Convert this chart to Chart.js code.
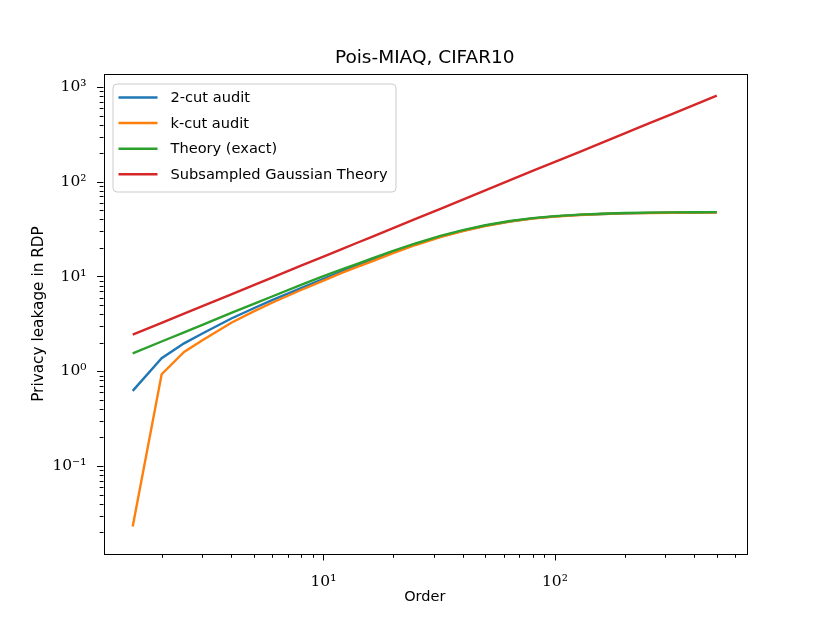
<!DOCTYPE html>
<html>
<head>
<meta charset="utf-8">
<script src="https://cdn.jsdelivr.net/npm/chart.js@4.4.0/dist/chart.umd.min.js"></script>
<style>
  html, body { margin: 0; padding: 0; background: #fff; }
  #myCanvas { display: block; }
</style>
</head>
<body>
<canvas id="myCanvas" width="830" height="623"></canvas>
<script>
const orders = [1.5, 2, 2.5, 3, 4, 5, 6, 8, 10, 12, 14, 16, 20, 25, 32, 40, 50, 64, 80, 100, 128, 160, 200, 256, 320, 400, 500];

const twoCut = [0.62, 1.37, 1.97, 2.5, 3.6, 4.62, 5.62, 7.55, 9.45, 11.3, 13.0, 14.7, 18.0, 21.8, 26.3, 30.4, 34.4, 38.2, 41.0, 43.1, 44.7, 45.7, 46.4, 46.9, 47.2, 47.4, 47.5];
const kCut = [0.023, 0.93, 1.6, 2.12, 3.25, 4.28, 5.28, 7.2, 9.05, 10.9, 12.6, 14.3, 17.6, 21.5, 26.0, 30.1, 34.1, 38.0, 40.8, 42.9, 44.5, 45.6, 46.3, 46.8, 47.1, 47.3, 47.4];
const theoryExact = [1.54, 2.06, 2.57, 3.09, 4.12, 5.14, 6.15, 8.15, 10.1, 11.9, 13.6, 15.3, 18.6, 22.3, 26.8, 30.8, 34.7, 38.5, 41.3, 43.4, 45.0, 46.0, 46.7, 47.2, 47.5, 47.7, 47.8];
const subsampledGaussian = [2.43, 3.24, 4.05, 4.86, 6.48, 8.1, 9.72, 13.0, 16.2, 19.4, 22.7, 25.9, 32.4, 40.5, 51.8, 64.8, 81, 104, 130, 162, 207, 259, 324, 415, 518, 648, 810];

const xTickValues = [2, 3, 4, 5, 6, 7, 8, 9, 10, 20, 30, 40, 50, 60, 70, 80, 90, 100, 200, 300, 400, 500, 600];
const xMajor = [10, 100];
const xMajorLabels = ["10\u00b9", "10\u00b2"];
const yTickValues = [0.02, 0.03, 0.04, 0.05, 0.06, 0.07, 0.08, 0.09, 0.1, 0.2, 0.3, 0.4, 0.5, 0.6, 0.7, 0.8, 0.9, 1, 2, 3, 4, 5, 6, 7, 8, 9, 10, 20, 30, 40, 50, 60, 70, 80, 90, 100, 200, 300, 400, 500, 600, 700, 800, 900, 1000];
const yMajor = [0.1, 1, 10, 100, 1000];
const yMajorLabels = ["10\u207b\u00b9", "10\u2070", "10\u00b9", "10\u00b2", "10\u00b3"];

const sansFont = "'DejaVu Sans', sans-serif";
const mathFont = "'DejaVu Serif', serif";

const makeTicks = (values, majors) => values.map(v => ({ value: v, major: majors.includes(v) }));

// matplotlib look: box frame, outward ticks (long major, short minor), title, legend inside
const mplDecor = {
    id: "mplDecor",
    afterDraw(chart) {
        const { ctx, chartArea: a, scales } = chart;
        ctx.save();
        ctx.strokeStyle = "#000";
        ctx.lineWidth = 1;
        scales.x.ticks.forEach(t => {
            const px = Math.round(scales.x.getPixelForValue(t.value)) + 0.5;
            ctx.beginPath();
            ctx.moveTo(px, a.bottom);
            ctx.lineTo(px, a.bottom + (t.major ? 6.5 : 3.8));
            ctx.stroke();
        });
        scales.y.ticks.forEach(t => {
            const py = Math.round(scales.y.getPixelForValue(t.value)) + 0.5;
            ctx.beginPath();
            ctx.moveTo(a.left, py);
            ctx.lineTo(a.left - (t.major ? 6.5 : 3.8), py);
            ctx.stroke();
        });
        ctx.strokeRect(Math.round(a.left) + 0.5, Math.round(a.top) + 0.5, Math.round(a.right - a.left), Math.round(a.bottom - a.top));

        // title
        ctx.fillStyle = "#000";
        ctx.font = "18.5px " + sansFont;
        ctx.textAlign = "center";
        ctx.textBaseline = "middle";
        ctx.fillText("Pois-MIAQ, CIFAR10", (a.left + a.right) / 2, 58);

        // legend
        const lx = a.left + 9, ly = a.top + 9.5, lw = 283, lh = 108;
        ctx.beginPath();
        ctx.roundRect(lx + 0.5, ly + 0.5, lw, lh, 4);
        ctx.fillStyle = "rgba(255,255,255,0.8)";
        ctx.fill();
        ctx.strokeStyle = "#cccccc";
        ctx.stroke();
        ctx.font = "14.6px " + sansFont;
        ctx.textAlign = "left";
        chart.data.datasets.forEach((ds, i) => {
            const ry = ly + 14 + i * 25.6;
            ctx.strokeStyle = ds.borderColor;
            ctx.lineWidth = 2.5;
            ctx.beginPath();
            ctx.moveTo(lx + 6, ry);
            ctx.lineTo(lx + 45, ry);
            ctx.stroke();
            ctx.fillStyle = "#000";
            ctx.fillText(ds.label, lx + 58, ry + 1);
        });
        ctx.restore();
    },
};

const canvasId = document.getElementById("myCanvas");
new Chart(canvasId, {
    type: "line",
    data: {
        labels: orders,
        datasets: [
            { label: "2-cut audit", data: twoCut, borderColor: "#1f77b4", order: 3 },
            { label: "k-cut audit", data: kCut, borderColor: "#ff7f0e", order: 2 },
            { label: "Theory (exact)", data: theoryExact, borderColor: "#2ca02c", order: 1 },
            { label: "Subsampled Gaussian Theory", data: subsampledGaussian, borderColor: "#d62728", order: 0 },
        ].map(ds => ({ ...ds, data: ds.data.map((v, i) => ({ x: orders[i], y: v })) })),
    },
    options: {
        responsive: false,
        animation: false,
        devicePixelRatio: 1,
        layout: { padding: { top: 74, right: 84, left: 0, bottom: 0 } },
        elements: {
            line: { borderWidth: 2.4, tension: 0, fill: false },
            point: { radius: 0 },
        },
        plugins: {
            legend: { display: false },
            title: { display: false },
            tooltip: { enabled: false },
        },
        scales: {
            x: {
                type: "logarithmic",
                min: 1.1218,
                max: 668.6,
                afterFit: s => { s.height = 69; },
                afterBuildTicks: s => { s.ticks = makeTicks(xTickValues, xMajor); },
                grid: { display: false },
                border: { display: false },
                ticks: {
                    autoSkip: false,
                    maxRotation: 0,
                    padding: 11,
                    color: "#000",
                    font: { family: mathFont, size: 15.5 },
                    callback: v => {
                        const i = xMajor.indexOf(v);
                        return i >= 0 ? xMajorLabels[i] : "";
                    },
                },
                title: {
                    display: true,
                    text: "Order",
                    color: "#000",
                    font: { family: sansFont, size: 14.5 },
                    padding: { top: 0, bottom: 17 },
                },
            },
            y: {
                type: "logarithmic",
                min: 0.01178,
                max: 1371,
                afterFit: s => { s.width = 103.5; },
                afterBuildTicks: s => { s.ticks = makeTicks(yTickValues, yMajor); },
                grid: { display: false },
                border: { display: false },
                ticks: {
                    autoSkip: false,
                    padding: 9,
                    color: "#000",
                    font: { family: mathFont, size: 15.5 },
                    callback: v => {
                        const i = yMajor.indexOf(v);
                        return i >= 0 ? yMajorLabels[i] : "";
                    },
                },
                title: {
                    display: true,
                    text: "Privacy leakage in RDP",
                    color: "#000",
                    font: { family: sansFont, size: 15.3 },
                    padding: { top: 30, bottom: 0 },
                },
            },
        },
    },
    plugins: [mplDecor],
});
</script>
</body>
</html>
